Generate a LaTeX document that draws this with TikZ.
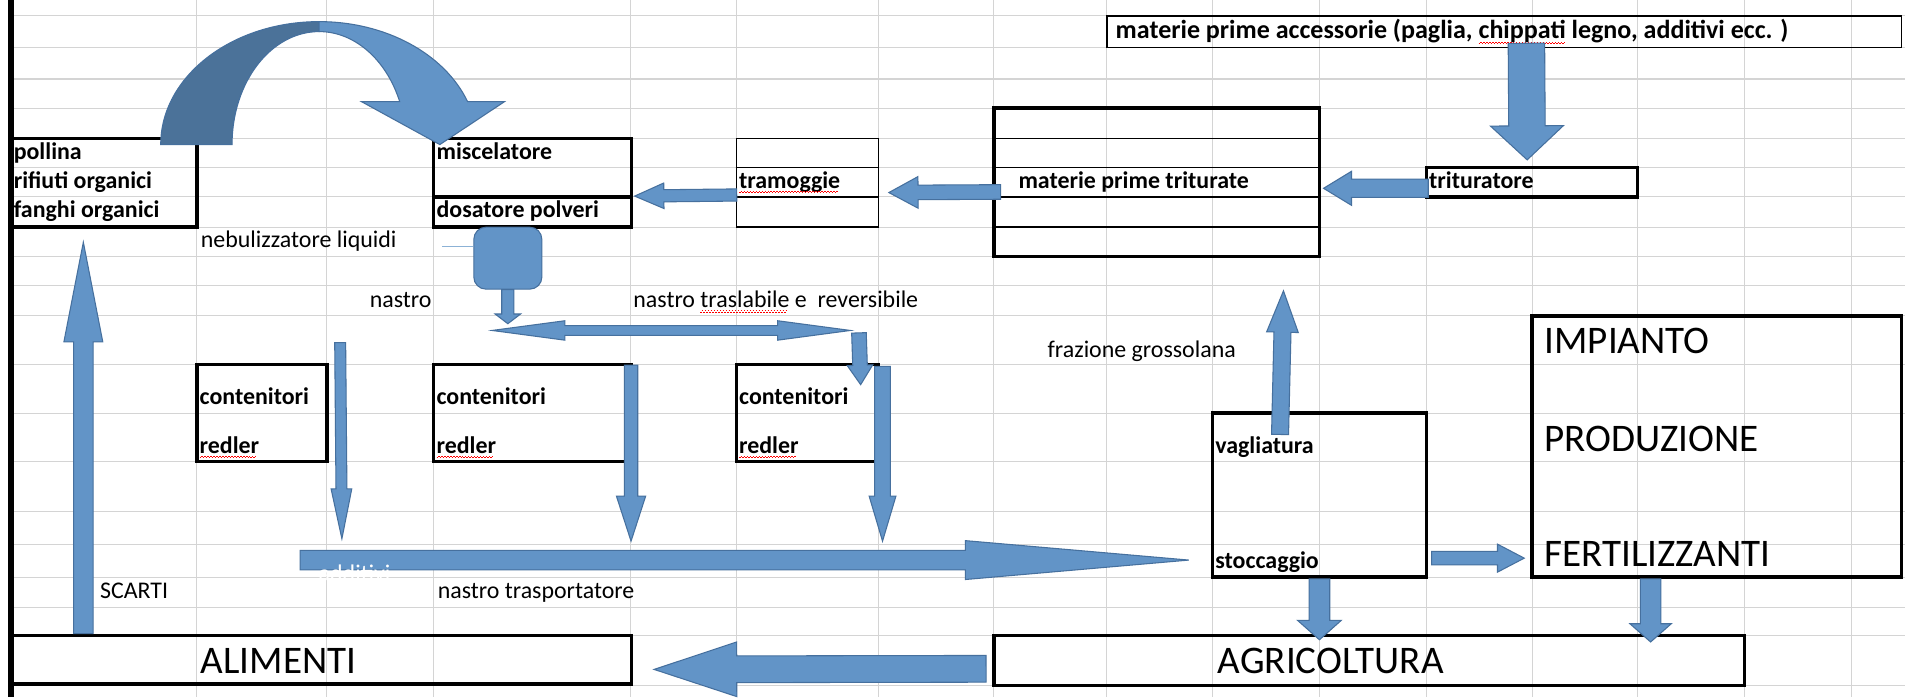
\documentclass[tikz,border=0pt]{standalone}
\usepackage{fontspec}
\setmainfont{Carlito}
\usetikzlibrary{calc, fit}

\definecolor{blockfill}{RGB}{98,148,199}
\definecolor{blockline}{RGB}{70,112,158}
\definecolor{blockdark}{RGB}{75,114,153}
\definecolor{gridline}{RGB}{212,212,212}
\definecolor{nebline}{RGB}{140,178,214}

% red wavy spell mark under a word
\newsavebox{\spellbox}
\newcommand{\spellerr}[1]{\leavevmode\sbox{\spellbox}{#1}\rlap{\usebox{\spellbox}}%
	\raisebox{-2.4pt}{\color{red}\leaders\hbox{\rule{0.7pt}{0.45pt}\raisebox{0.55pt}{\rule{0.7pt}{0.45pt}}}\hskip\wd\spellbox}}

% block arrow: [style]{from}{to}{shaft}{head width}{head length}
\newcommand{\blockarrow}[6][]{%
	\path[fill=blockfill, draw=blockline, line width=0.5pt, #1]
	let \p1=#2, \p2=#3, \n1={atan2(\y2-\y1,\x2-\x1)}, \n2={veclen(\x2-\x1,\y2-\y1)},
	\n3={#4*0.2845pt}, \n4={#5*0.2845pt}, \n5={\n2-#6*0.569pt} in
	{[shift={(\x1,\y1)}, rotate=\n1] (0pt,-\n3) -- (\n5,-\n3) -- (\n5,-\n4) -- (\n2,0pt)
	-- (\n5,\n4) -- (\n5,\n3) -- (0pt,\n3) -- cycle};}
% same, with a head at both ends
\newcommand{\twinarrow}[6][]{%
	\path[fill=blockfill, draw=blockline, line width=0.5pt, #1]
	let \p1=#2, \p2=#3, \n1={atan2(\y2-\y1,\x2-\x1)}, \n2={veclen(\x2-\x1,\y2-\y1)},
	\n3={#4*0.2845pt}, \n4={#5*0.2845pt}, \n5={#6*0.569pt}, \n6={\n2-#6*0.569pt} in
	{[shift={(\x1,\y1)}, rotate=\n1] (0pt,0pt) -- (\n5,-\n4) -- (\n5,-\n3) -- (\n6,-\n3)
	-- (\n6,-\n4) -- (\n2,0pt) -- (\n6,\n4) -- (\n6,\n3) -- (\n5,\n3) -- (\n5,\n4) -- cycle};}

\begin{document}
\begin{tikzpicture}[x=0.2mm, y=-0.2mm]
	\tikzstyle{cell} = [draw=black, line width=1.6pt, inner sep=0pt]
	\tikzstyle{thincell} = [draw=black, line width=0.7pt, inner sep=0pt]
	\tikzstyle{lbl} = [anchor=base west, inner sep=0pt, font=\fontsize{11.2}{13}\selectfont\bfseries]
	\tikzstyle{note} = [anchor=base west, inner sep=0pt, font=\fontsize{11.2}{13}\selectfont]
	\tikzstyle{big} = [anchor=base west, inner sep=0pt, font=\fontsize{18.3}{21}\selectfont]

	\useasboundingbox (0, 0) rectangle (1568, 574);
	\fill[white] (0, 0) rectangle (1568, 574);

	% sheet grid
	\foreach \gx in {162,269,357,519,606,723,818,911,998,1086,1174,1261,1348,1436,1524}
		\draw[gridline, line width=0.5pt] (\gx, 0) -- (\gx, 574);
	\foreach \gy in {13,39,65,89,114,138,162,187,211,235,260,300,340,380,421,448,475,500,523,564}
		\draw[gridline, line width=0.5pt] (9, \gy) -- (1568, \gy);
	\draw[line width=2.8pt] (9, 0) -- (9, 574);

	% boxes
	\node[thincell, fit={(911, 13) (1565, 39)}]		(acc)	{};
	\node[cell, fit={(818, 89) (1086, 211)}]		(mpt)	{};
	\foreach \gy in {114,138,162,187}
		\draw[line width=0.7pt] (mpt.west |- 0,\gy) -- (mpt.east |- 0,\gy);
	\node[cell, fit={(1174, 138) (1348, 162)}]		(trit)	{};
	\node[thincell, fit={(606, 114) (723, 187)}]	(tram)	{};
	\foreach \gy in {138,162}
		\draw[line width=0.7pt] (tram.west |- 0,\gy) -- (tram.east |- 0,\gy);
	\node[cell, fit={(357, 114) (520, 162)}]		(misc)	{};
	\node[cell, fit={(357, 162) (520, 187)}]		(dos)	{};
	\node[cell, fit={(8, 114) (162, 187)}]			(pol)	{};
	\node[cell, fit={(162, 300) (269, 380)}]		(cont1)	{};
	\node[cell, fit={(357, 300) (520, 380)}]		(cont2)	{};
	\node[cell, fit={(606, 300) (723, 380)}]		(cont3)	{};
	\node[cell, fit={(998, 340) (1174, 475)}]		(vag)	{};
	\node[cell, fit={(1261, 260) (1565, 475)}]		(imp)	{};
	\node[cell, fit={(8, 523) (520, 563)}]			(alim)	{};
	\node[cell, fit={(818, 523) (1436, 564)}]		(agri)	{};

	% texts
	\node[lbl, font=\fontsize{12.2}{14}\selectfont\bfseries]	at (918, 32)	(acct)	{materie prime accessorie (paglia, \spellerr{chippati} legno, additivi ecc. )};
	\node[lbl]	at (838, 155)	(mptt)	{materie prime triturate};
	\node[lbl]	at (1176, 155)	(tritt)	{trituratore};
	\node[lbl]	at (608, 155)	(tramt)	{\spellerr{tramoggie}};
	\node[lbl]	at (359, 131)	(misct)	{miscelatore};
	\node[lbl]	at (359, 179)	(dost)	{dosatore polveri};
	\node[lbl]	at (11, 131)	(pol1)	{pollina};
	\node[lbl]	at (11, 155)	(pol2)	{rifiuti organici};
	\node[lbl]	at (11, 179)	(pol3)	{fanghi organici};
	\node[note]	at (165, 204)	(nebt)	{nebulizzatore liquidi};
	\node[note]	at (304, 253)	(nas1)	{nastro};
	\node[note]	at (521, 253)	(nas2)	{nastro \spellerr{traslabile} e~ reversibile};
	\node[lbl]	at (164, 333)	(c1a)	{contenitori};
	\node[lbl]	at (164, 373)	(c1b)	{\spellerr{redler}};
	\node[lbl]	at (359, 333)	(c2a)	{contenitori};
	\node[lbl]	at (359, 373)	(c2b)	{\spellerr{redler}};
	\node[lbl]	at (608, 333)	(c3a)	{contenitori};
	\node[lbl]	at (608, 373)	(c3b)	{\spellerr{redler}};
	\node[note]	at (862, 294)	(fraz)	{frazione grossolana};
	\node[lbl]	at (1000, 373)	(vagt)	{vagliatura};
	\node[lbl]	at (1000, 468)	(stot)	{stoccaggio};
	\node[big]	at (1271, 291)	(imp1)	{IMPIANTO};
	\node[big]	at (1271, 372)	(imp2)	{PRODUZIONE};
	\node[big]	at (1271, 466)	(imp3)	{FERTILIZZANTI};
	\node[note]	at (82, 493)	(scar)	{SCARTI};
	\node[note]	at (360, 493)	(nas3)	{nastro trasportatore};
	\node[big]	at (165, 554)	(alimt)	{ALIMENTI};
	\node[big]	at (1002, 554)	(agrit)	{AGRICOLTURA};

	% pollina -> miscelatore
	\path[fill=blockdark, draw=blockline, line width=0.5pt]
		(132.3, 119) .. controls (132.3, 63.1) and (190.7, 17.8) .. (262.7, 17.8) -- (262.7, 26)
		.. controls (223.1, 26) and (191, 67.6) .. (191, 119) -- cycle;
	\path[fill=blockfill, draw=blockline, line width=0.5pt]
		(262.7, 17.8) .. controls (317.2, 17.8) and (365.9, 44.1) .. (384.9, 83.7) -- (415.2, 83.7)
		-- (362, 119) -- (297.6, 83.7) -- (329, 83.7) .. controls (318, 48.9) and (291.7, 26) .. (262.7, 26) -- cycle;

	% nebulizzatore
	\node[draw=blockline, fill=blockfill, line width=0.5pt, rounded corners=2mm, minimum width=11.2mm, minimum height=10.2mm, inner sep=0pt] at (418, 212.5) (neb) {};
	\coordinate (nl) at (364, 203);
	\draw[nebline, line width=0.8pt] (nl) -- (nl -| neb.west);
	\blockarrow{(neb.south)}{($(neb.south)+(0,28)$)}{10}{21}{8}

	% nastro traslabile
	\coordinate (n1) at (405, 272);
	\coordinate (n2) at (700, 272);
	\twinarrow{(n1)}{(n2)}{8}{16}{60}
	\blockarrow{($(n2)+(7,2)$)}{($(cont3.north east)+(-16,18)$)}{12}{21}{16}

	% down to the belt
	\coordinate (d1) at (280, 282);
	\blockarrow{(d1)}{($(cont1.south east)+(11,62)$)}{9}{17}{41}
	\blockarrow{($(cont2.north east)+(-2,2)$)}{($(cont2.south east)+(-2,64)$)}{11}{24}{37}
	\blockarrow{($(cont3.north east)+(2,3)$)}{($(cont3.south east)+(2,64)$)}{13}{22}{37}

	% nastro trasportatore
	\coordinate (conv) at (247, 461);
	\blockarrow{(conv)}{($(vag.west)+(-18,53.5)$)}{16}{32}{184}
	\node[note, white] at (262, 479) (addt) {additivi};

	% right side
	\blockarrow{($(acc.south west)+(346,-4)$)}{($(trit.north)+(-4,-5)$)}{30}{60}{28}
	\blockarrow{($(trit.west)+(3,5)$)}{($(mpt.east)+(2,5)$)}{15}{28}{23}
	\blockarrow{($(mpt.west)+(7,8)$)}{($(tram.east)+(8,8)$)}{12}{26}{24}
	\blockarrow{($(tram.west)+(1,10)$)}{($(misc.south east)+(1,-2)$)}{10}{21}{24}
	\blockarrow{($(vag.north west)+(57,19)$)}{($(mpt.south east)+(-31,27)$)}{14}{26}{34}
	\blockarrow{($(vag.south east)+(3,-17)$)}{($(imp.south west)+(-5,-17)$)}{11}{23}{22}
	\blockarrow{(vag.south)}{($(vag.south |- agri.north)+(0,5)$)}{17}{36}{16}
	\blockarrow{($(imp.south west)+(99,0)$)}{($(imp.south west)+(99,52)$)}{17}{34}{15}

	% bottom
	\blockarrow{($(agri.west)+(-5,7)$)}{($(alim.east)+(17,8)$)}{22}{45}{68}
	\blockarrow{($(alim.north west)+(62,0)$)}{($(pol.south west)+(62,11)$)}{16}{32}{82}
\end{tikzpicture}
\end{document}
